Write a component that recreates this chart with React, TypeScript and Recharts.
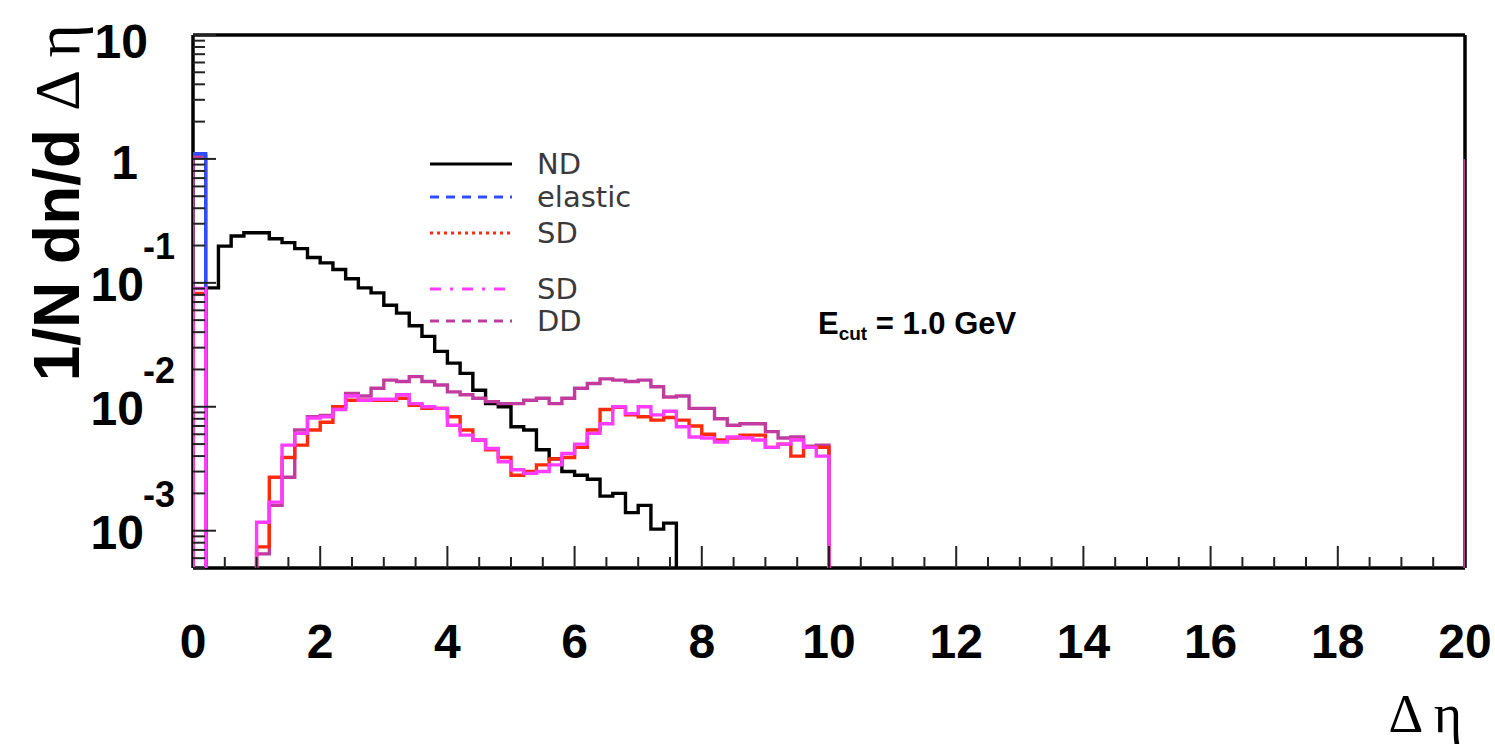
import React from 'react';
import { ComposedChart, Line, XAxis, YAxis } from 'recharts';

// ---------- data (1/N dn/dΔη, bins of width 0.2 starting at Δη = 0) ----------
const BIN = 0.2;

const ndValues = [
  0, 0.091, 0.198, 0.239, 0.254, 0.254, 0.227, 0.211, 0.189, 0.16, 0.145, 0.128, 0.108,
  0.091, 0.083, 0.066, 0.057, 0.045, 0.037, 0.028, 0.0225, 0.0186, 0.0136, 0.0106, 0.01,
  0.0069, 0.0065, 0.0045, 0.0038, 0.003, 0.0028, 0.0026, 0.0019, 0.002, 0.0014, 0.0016,
  0.00103, 0.00115,
];

const elasticValues = [1.1];

const sdRedValues = [
  0.082, 0, 0, 0, 0,
  0.00074, 0.0027, 0.0039, 0.0049, 0.0065, 0.0075, 0.01, 0.0113, 0.0113, 0.0113, 0.0113,
  0.0117, 0.0103, 0.0097, 0.0097, 0.0083, 0.0065, 0.0054, 0.0045, 0.0039, 0.0028, 0.003,
  0.0034, 0.0038, 0.0039, 0.0047, 0.0065, 0.0095, 0.0099, 0.0086, 0.0083, 0.0078, 0.0082,
  0.0078, 0.007, 0.006, 0.0054, 0.0056, 0.0059, 0.0059, 0.0047, 0.005, 0.004, 0.0047, 0.0047,
];

const sdMagentaValues = [
  0.09, 0, 0, 0, 0,
  0.00117, 0.0017, 0.0049, 0.0061, 0.0081, 0.0083, 0.0095, 0.0122, 0.0113, 0.0115, 0.0115,
  0.0125, 0.0106, 0.01, 0.0097, 0.0071, 0.0059, 0.0054, 0.0046, 0.0036, 0.0031, 0.0029,
  0.003, 0.0034, 0.0042, 0.005, 0.0061, 0.0073, 0.01, 0.0088, 0.01, 0.0086, 0.0092,
  0.0069, 0.0057, 0.0056, 0.0052, 0.0057, 0.0056, 0.0054, 0.0047, 0.005, 0.0054, 0.0047, 0.004,
];

const ddValues = [
  1.05, 0, 0, 0, 0,
  0.00065, 0.0016, 0.0027, 0.0065, 0.0083, 0.0085, 0.01, 0.0128, 0.0122, 0.0141, 0.0164,
  0.016, 0.0175, 0.016, 0.015, 0.0132, 0.0125, 0.0117, 0.011, 0.0106, 0.0106, 0.0113,
  0.0117, 0.0106, 0.0117, 0.0141, 0.0154, 0.0168, 0.0164, 0.016, 0.0164, 0.0145, 0.012,
  0.0122, 0.0097, 0.0097, 0.008, 0.0071, 0.0073, 0.0073, 0.0063, 0.0056, 0.0057, 0.0048, 0.0049,
];
const ddEdgeSpike = { x: 20, value: 1.0 };

const xLabelTicks = [0, 2, 4, 6, 8, 10, 12, 14, 16, 18, 20];
const yMajorTicks = [0.001, 0.01, 0.1, 1, 10];
const legendLabels = ['ND', 'elastic', 'SD', 'SD', 'DD'];

// ---------- layout / styles ----------
const W = 1495;
const H = 747;
const PLOT_LEFT = 193;
const PLOT_TOP = 35;
const PLOT_RIGHT = 1465;
const PLOT_BOTTOM = 568;
const FLOOR = 1e-6;
const Y_DOMAIN = [0.0005, 10];
const LW = 3.4;
const FRAME = { stroke: '#000', strokeWidth: 3.5 };
const LINE_Z = 1000;

const COLORS = {
  nd: '#000000',
  elastic: '#2f4dff',
  sdRed: '#ff2a0a',
  sdMag: '#ff3cff',
  dd: '#c13c9e',
};

const BOLD = '"Liberation Sans", Arial, Helvetica, sans-serif';
const SERIF = '"Liberation Serif", "Times New Roman", serif';

function hist(values: number[], start = 0, leadingFloor = true) {
  const pts: { x: number; y: number }[] = [];
  if (leadingFloor) pts.push({ x: start, y: FLOOR });
  values.forEach((v, i) => pts.push({ x: +(start + i * BIN).toFixed(3), y: v > 0 ? v : FLOOR }));
  pts.push({ x: +(start + values.length * BIN).toFixed(3), y: FLOOR });
  return pts;
}

const ndData = hist(ndValues);
const elasticData = hist(elasticValues, 0, false);
const sdRedData = hist(sdRedValues);
const sdMagData = hist(sdMagentaValues);
const ddData = [...hist(ddValues), { x: ddEdgeSpike.x, y: ddEdgeSpike.value }];

// x ticks every 0.5 (minor), labelled every 2
const xTicks: number[] = [];
for (let i = 0; i <= 40; i++) xTicks.push(i * 0.5);

// log ticks
const yTicks: number[] = [];
for (let e = -4; e <= 1; e++) {
  for (let k = 1; k <= 9; k++) {
    const v = +(k * Math.pow(10, e)).toPrecision(3);
    if (v >= Y_DOMAIN[0] - 1e-12 && v <= Y_DOMAIN[1] + 1e-12) yTicks.push(v);
  }
}

const XTick = (props: any) => {
  const { x, payload } = props;
  const v = payload.value;
  const major = xLabelTicks.some((t) => Math.abs(t - v) < 1e-6);
  const len = major ? 22 : 11;
  return (
    <g>
      {v > 0.01 && v < 19.99 && (
        <line x1={x} x2={x} y1={PLOT_BOTTOM} y2={PLOT_BOTTOM - len} stroke="#222" strokeWidth={2} />
      )}
      {major && (
        <text x={x} y={658} textAnchor="middle" fontFamily={BOLD} fontWeight="bold" fontSize={48} fill="#000">
          {String(v)}
        </text>
      )}
    </g>
  );
};

const YTick = (props: any) => {
  const { y, payload } = props;
  const v = payload.value;
  const major = yMajorTicks.some((t) => Math.abs(t - v) / t < 1e-6);
  const len = major ? 23 : 12;
  const exp = Math.round(Math.log10(v));
  let label: React.ReactNode = null;
  if (major) {
    if (exp === 1) {
      label = (
        <text x={148} y={Math.max(y, 40) + 18} textAnchor="end" fontFamily={BOLD} fontWeight="bold" fontSize={48}>
          10
        </text>
      );
    } else if (exp === 0) {
      label = (
        <text x={138} y={y + 20} textAnchor="end" fontFamily={BOLD} fontWeight="bold" fontSize={48}>
          1
        </text>
      );
    } else {
      label = (
        <g>
          <text x={144} y={y + 18} textAnchor="end" fontFamily={BOLD} fontWeight="bold" fontSize={48}>
            10
          </text>
          <text x={143} y={y - 24} textAnchor="start" fontFamily={BOLD} fontWeight="bold" fontSize={36}>
            {String(exp)}
          </text>
        </g>
      );
    }
  }
  return (
    <g>
      <line x1={PLOT_LEFT} x2={PLOT_LEFT + len} y1={y} y2={y} stroke="#222" strokeWidth={2} />
      {label}
    </g>
  );
};

const legendRowY = [164, 197, 233, 289, 321];
const legendStyles = [
  { color: COLORS.nd, dash: undefined as string | undefined },
  { color: COLORS.elastic, dash: '9 7' },
  { color: COLORS.sdRed, dash: '3 4' },
  { color: COLORS.sdMag, dash: '11 9 3 9' },
  { color: COLORS.dd, dash: '9 7' },
];

const lineCommon = {
  dataKey: 'y',
  type: 'stepAfter' as const,
  strokeWidth: LW,
  dot: false,
  activeDot: false,
  isAnimationActive: false,
};

export default function App() {
  return (
    <div style={{ position: 'absolute', left: 0, top: 0, width: W, height: H, background: '#fff' }}>
      <ComposedChart
        width={W}
        height={H}
        margin={{ top: PLOT_TOP - 2, right: W - PLOT_RIGHT - 2, bottom: 0, left: 0 }}
      >
        <XAxis
          type="number"
          dataKey="x"
          domain={[0, 20]}
          allowDataOverflow
          ticks={xTicks}
          interval={0}
          tickLine={false}
          axisLine={FRAME}
          tickSize={0}
          tickMargin={0}
          tick={<XTick />}
          height={H - PLOT_BOTTOM}
        />
        <XAxis
          xAxisId="top"
          orientation="top"
          type="number"
          dataKey="x"
          domain={[0, 20]}
          allowDataOverflow
          tick={false}
          tickLine={false}
          axisLine={FRAME}
          height={2}
        />
        <YAxis
          type="number"
          scale="log"
          domain={Y_DOMAIN}
          allowDataOverflow
          ticks={yTicks}
          interval={0}
          tickLine={false}
          axisLine={FRAME}
          tickSize={0}
          tickMargin={0}
          tick={<YTick />}
          width={PLOT_LEFT}
        />
        <YAxis
          yAxisId="right"
          orientation="right"
          type="number"
          scale="log"
          domain={Y_DOMAIN}
          allowDataOverflow
          tick={false}
          tickLine={false}
          axisLine={FRAME}
          width={2}
        />
        <Line {...lineCommon} data={ndData} stroke={COLORS.nd} zIndex={LINE_Z} />
        <Line {...lineCommon} data={ddData} stroke={COLORS.dd} zIndex={LINE_Z} />
        <Line {...lineCommon} data={elasticData} stroke={COLORS.elastic} zIndex={LINE_Z} />
        <Line {...lineCommon} data={sdRedData} stroke={COLORS.sdRed} zIndex={LINE_Z} />
        <Line {...lineCommon} data={sdMagData} stroke={COLORS.sdMag} zIndex={LINE_Z} />
      </ComposedChart>

      <svg
        width={W}
        height={H}
        style={{ position: 'absolute', left: 0, top: 0, pointerEvents: 'none' }}
      >
        {/* legend */}
        {legendLabels.map((lab, i) => (
          <g key={i}>
            <line
              x1={430}
              x2={512}
              y1={legendRowY[i]}
              y2={legendRowY[i]}
              stroke={legendStyles[i].color}
              strokeWidth={3}
              strokeDasharray={legendStyles[i].dash}
            />
            <text
              x={537}
              y={legendRowY[i] + 10}
              fontFamily='"DejaVu Sans", sans-serif'
              fontSize={29}
              fill="#3a3a3a"
            >
              {lab}
            </text>
          </g>
        ))}

        {/* cut annotation */}
        <text x={818} y={334} fontFamily={BOLD} fontWeight="bold" fontSize={31} fill="#000">
          E
          <tspan fontSize={19} dy={6}>cut</tspan>
          <tspan fontSize={31} dy={-6}> = 1.0 GeV</tspan>
        </text>

        {/* y axis title */}
        <text
          transform="translate(79, 24) rotate(-90)"
          textAnchor="end"
          fontSize={64}
          fill="#000"
        >
          <tspan fontFamily={BOLD} fontWeight="bold">1/N dn/d </tspan>
          <tspan fontFamily={SERIF}>Δ η</tspan>
        </text>

        {/* x axis title */}
        <text x={1462} y={732} textAnchor="end" fontFamily={SERIF} fontSize={54} fill="#000">
          Δ η
        </text>
      </svg>
    </div>
  );
}
